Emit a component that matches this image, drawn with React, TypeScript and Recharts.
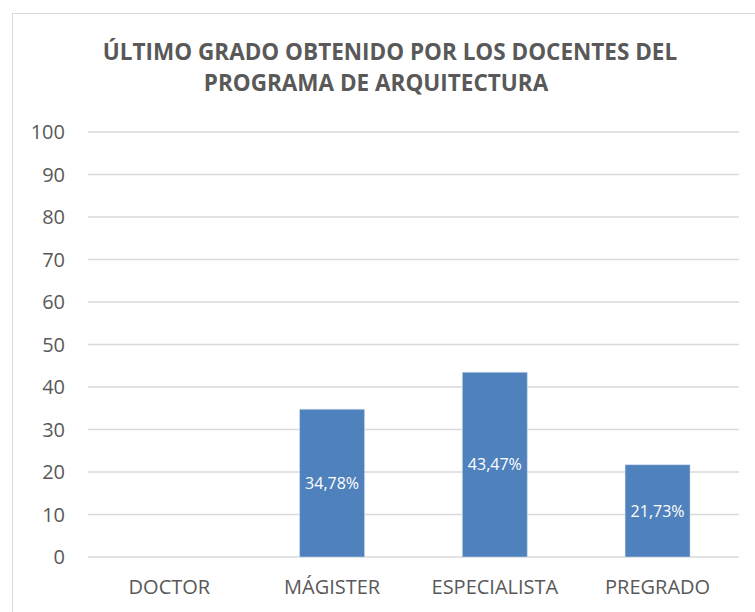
import React from "react";
import {
  BarChart,
  Bar,
  XAxis,
  YAxis,
  CartesianGrid,
  LabelList,
} from "recharts";

// datos
const grados = ["DOCTOR", "MÁGISTER", "ESPECIALISTA", "PREGRADO"];
const porcentajes = [0, 34.78, 43.47, 21.73];
const ticksY = [0, 10, 20, 30, 40, 50, 60, 70, 80, 90, 100];
const titulo = [
  "ÚLTIMO GRADO OBTENIDO POR LOS DOCENTES DEL",
  "PROGRAMA DE ARQUITECTURA",
];

const data = grados.map((g, i) => ({ grado: g, valor: porcentajes[i] }));

const TEXTO = "#595959";
const AZUL = "#4f81bd";
const FUENTE = "'Open Sans', sans-serif";

const formatoPct = (v: any) =>
  Number(v) > 0 ? Number(v).toFixed(2).replace(".", ",") + "%" : "";

export default function App() {
  return (
    <div
      style={{
        position: "absolute",
        left: 0,
        top: 0,
        width: 755,
        height: 612,
        overflow: "hidden",
        background: "#fff",
        fontFamily: FUENTE,
      }}
    >
      <div
        style={{
          position: "absolute",
          left: 12,
          top: 13,
          width: 800,
          height: 700,
          border: "1px solid #d9d9d9",
          boxSizing: "border-box",
        }}
      />
      <svg
        width={755}
        height={110}
        style={{ position: "absolute", left: 0, top: 0 }}
      >
        <text
          x={390}
          y={60}
          textAnchor="middle"
          fill={TEXTO}
          fontFamily={FUENTE}
          fontWeight="bold"
          fontSize={22.5}
        >
          {titulo[0]}
        </text>
        <text
          x={376}
          y={91}
          textAnchor="middle"
          fill={TEXTO}
          fontFamily={FUENTE}
          fontWeight="bold"
          fontSize={22.5}
        >
          {titulo[1]}
        </text>
      </svg>
      <div style={{ position: "absolute", left: 0, top: 0 }}>
        <BarChart
          width={755}
          height={612}
          data={data}
          margin={{ top: 132, right: 16, left: 0, bottom: 15 }}
          barCategoryGap="30%"
        >
          <CartesianGrid vertical={false} stroke="#d9d9d9" strokeWidth={1.5} />
          <XAxis
            dataKey="grado"
            axisLine={false}
            tickLine={false}
            tickSize={0}
            tickMargin={23}
            height={40}
            interval={0}
            tick={{ fill: TEXTO, fontSize: 20, fontFamily: FUENTE }}
          />
          <YAxis
            domain={[0, 100]}
            ticks={ticksY}
            axisLine={false}
            tickLine={false}
            tickSize={0}
            tickMargin={23}
            width={88}
            interval={0}
            tick={{ fill: TEXTO, fontSize: 20, fontFamily: FUENTE }}
          />
          <Bar
            dataKey="valor"
            fill={AZUL}
            stroke="#dbe5f1"
            strokeWidth={0.5}
            isAnimationActive={false}
          >
            <LabelList
              dataKey="valor"
              position="center"
              formatter={formatoPct}
              fill="#ffffff"
              fontSize={16}
              fontFamily={FUENTE}
            />
          </Bar>
        </BarChart>
      </div>
    </div>
  );
}
